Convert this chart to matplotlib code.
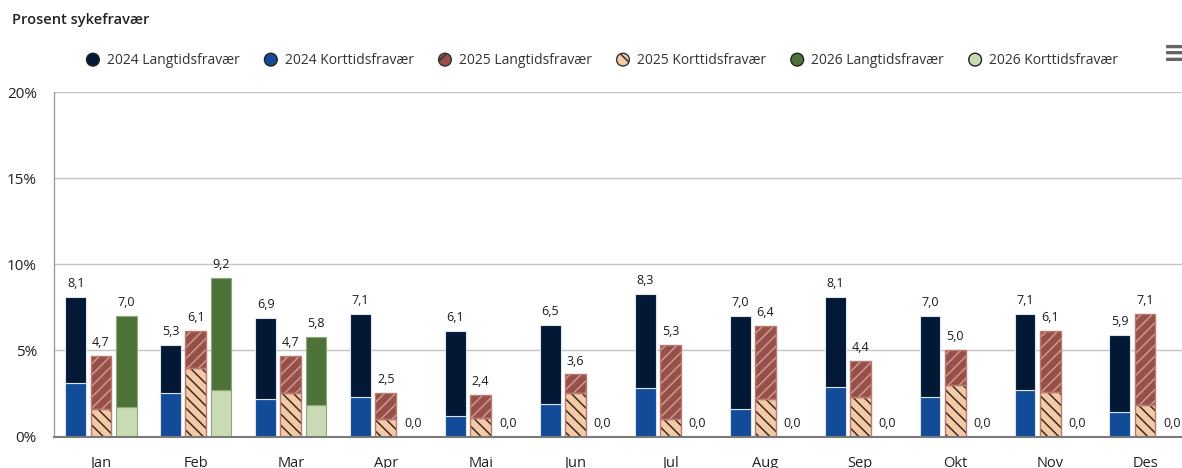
import numpy as np
import matplotlib
matplotlib.use('Agg')
import matplotlib.pyplot as plt
import matplotlib.patches as mpatches
from matplotlib.legend_handler import HandlerPatch

plt.rcParams['font.family'] = ['Open Sans', 'DejaVu Sans']
plt.rcParams['hatch.linewidth'] = 1.1

# Data
months = ['Jan', 'Feb', 'Mar', 'Apr', 'Mai', 'Jun', 'Jul', 'Aug', 'Sep', 'Okt', 'Nov', 'Des']
total_2024 = [8.1, 5.3, 6.9, 7.1, 6.1, 6.5, 8.3, 7.0, 8.1, 7.0, 7.1, 5.9]
kort_2024 = [3.1, 2.5, 2.2, 2.3, 1.2, 1.9, 2.8, 1.6, 2.9, 2.3, 2.7, 1.4]
total_2025 = [4.7, 6.1, 4.7, 2.5, 2.4, 3.6, 5.3, 6.4, 4.4, 5.0, 6.1, 7.1]
kort_2025 = [1.6, 4.0, 2.5, 1.0, 1.1, 2.5, 1.0, 2.2, 2.3, 3.0, 2.6, 1.8]
total_2026 = [7.0, 9.2, 5.8, 0, 0, 0, 0, 0, 0, 0, 0, 0]
kort_2026 = [1.7, 2.7, 1.8, 0, 0, 0, 0, 0, 0, 0, 0, 0]

lang_2024 = np.array(total_2024) - np.array(kort_2024)
lang_2025 = np.array(total_2025) - np.array(kort_2025)
lang_2026 = np.array(total_2026) - np.array(kort_2026)

c24_lang = '#021835'
c24_kort = '#124b98'
c25_lang = '#974f48'
c25_kort = '#f3caa5'
c26_lang = '#4e7339'
c26_kort = '#c9dab5'

fig = plt.figure(figsize=(11.82, 4.68), dpi=100)
ax = fig.add_axes([53.5 / 1182, 31.5 / 468, 1139 / 1182, 344.5 / 468])

x = np.arange(len(months))
w = 0.22
off = 0.265

# 2024
ax.bar(x - off, kort_2024, w, color=c24_kort, edgecolor='#dde3ec', linewidth=0.8, zorder=3)
ax.bar(x - off, lang_2024, w, bottom=kort_2024, color=c24_lang, edgecolor='#dde3ec', linewidth=0.8, zorder=3)

# 2025 (skravert)
ax.bar(x, kort_2025, w, color=c25_kort, edgecolor='#3b2a22', hatch='\\\\\\', linewidth=0, zorder=3)
ax.bar(x, lang_2025, w, bottom=kort_2025, color=c25_lang, edgecolor='#c99a95', hatch='///', linewidth=0, zorder=3)
ax.bar(x, kort_2025, w, fill=False, edgecolor='#b97a70', linewidth=1.0, zorder=4)
ax.bar(x, lang_2025, w, bottom=kort_2025, fill=False, edgecolor='#b97a70', linewidth=1.0, zorder=4)

# 2026
ax.bar(x + off, kort_2026, w, color=c26_kort, edgecolor='#8fa877', linewidth=0.8, zorder=3)
ax.bar(x + off, lang_2026, w, bottom=kort_2026, color=c26_lang, edgecolor='#8fa877', linewidth=0.8, zorder=3)

def fmt(v):
    return f'{v:.1f}'.replace('.', ',')

for i in range(len(months)):
    ax.annotate(fmt(total_2024[i]), (x[i] - off, total_2024[i]), xytext=(0, 5),
                textcoords='offset points', ha='center', va='bottom', fontsize=9, color='#1a1a1a')
    ax.annotate(fmt(total_2025[i]), (x[i], total_2025[i]), xytext=(0, 5),
                textcoords='offset points', ha='center', va='bottom', fontsize=9, color='#1a1a1a')
    if total_2026[i] > 0:
        ax.annotate(fmt(total_2026[i]), (x[i] + off, total_2026[i]), xytext=(0, 5),
                    textcoords='offset points', ha='center', va='bottom', fontsize=9, color='#1a1a1a')
    else:
        ax.annotate(fmt(total_2026[i]), (x[i] + off + 0.02, 0), xytext=(0, 5),
                    textcoords='offset points', ha='center', va='bottom', fontsize=9, color='#1a1a1a')

ax.set_xlim(-0.5, len(months) - 0.5)
ax.set_ylim(0, 20)
ax.set_yticks([0, 5, 10, 15, 20])
ax.set_yticklabels(['0%', '5%', '10%', '15%', '20%'])
ax.set_xticks(x)
ax.set_xticklabels(months)
ax.tick_params(axis='both', length=0, colors='#222222')
ax.tick_params(axis='x', pad=14, labelsize=10.5)
ax.tick_params(axis='y', pad=12, labelsize=11)
ax.grid(axis='y', color='#c4c4c4', linewidth=1, zorder=0)
for s in ['top', 'right']:
    ax.spines[s].set_visible(False)
ax.spines['left'].set_color('#a0a0a0')
ax.spines['left'].set_linewidth(1)
ax.spines['bottom'].set_color('#7a7a7a')
ax.spines['bottom'].set_linewidth(1.5)
ax.spines['bottom'].set_zorder(5)

# tittel
fig.text(12 / 1182, 1 - 20 / 468, 'Prosent sykefravær', fontsize=10.5, fontweight='semibold',
         color='#222222', va='center', ha='left')

# meny-ikon
fig.text(1175 / 1182, 1 - 54 / 468, '≡', fontsize=21, fontweight='bold', color='#666666',
         va='center', ha='center', family='DejaVu Sans')

# forklaring
class HandlerCircle(HandlerPatch):
    def create_artists(self, legend, orig_handle, xdescent, ydescent, width, height, fontsize, trans):
        r = 0.46 * fontsize
        c = mpatches.Circle((width / 2 - xdescent, height / 2 - ydescent), r)
        self.update_prop(c, orig_handle, legend)
        c.set_transform(trans)
        return [c]

handles = [
    mpatches.Patch(facecolor=c24_lang, edgecolor='#222222', label='2024 Langtidsfravær'),
    mpatches.Patch(facecolor=c24_kort, edgecolor='#222222', label='2024 Korttidsfravær'),
    mpatches.Patch(facecolor=c25_lang, edgecolor='#333333', hatch='//', label='2025 Langtidsfravær'),
    mpatches.Patch(facecolor=c25_kort, edgecolor='#333333', hatch='\\\\', label='2025 Korttidsfravær'),
    mpatches.Patch(facecolor=c26_lang, edgecolor='#222222', label='2026 Langtidsfravær'),
    mpatches.Patch(facecolor=c26_kort, edgecolor='#222222', label='2026 Korttidsfravær'),
]
leg = fig.legend(handles=handles, loc='center', bbox_to_anchor=(602 / 1182, 1 - 61 / 468), ncol=6,
                 frameon=False, fontsize=10, handler_map={mpatches.Patch: HandlerCircle()},
                 handlelength=1.0, handletextpad=0.5, columnspacing=1.75)
for t in leg.get_texts():
    t.set_color('#333333')

fig.savefig('out.png', dpi=100)
